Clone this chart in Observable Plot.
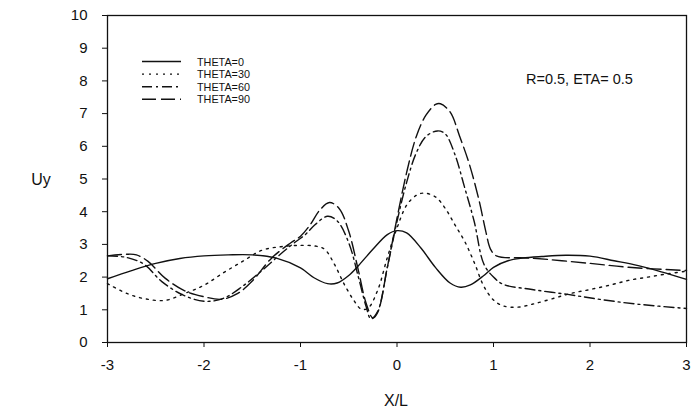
<!DOCTYPE html>
<html>
<head>
<meta charset="utf-8">
<script src="https://cdn.jsdelivr.net/npm/d3@7"></script>
<script src="https://cdn.jsdelivr.net/npm/@observablehq/plot@0.6"></script>
<style>
  html, body { margin: 0; padding: 0; background: #fff; }
  svg { display: block; }
</style>
</head>
<body>
<div id="chart"></div>
<script>
// ---- data ----
const seriesNames = ["THETA=0", "THETA=30", "THETA=60", "THETA=90"];

const theta0X = [-3,-2.75,-2.5,-2.25,-2,-1.75,-1.5,-1.25,-1,-0.86,-0.72,-0.62,-0.5,-0.4,-0.25,-0.1,0,0.1,0.25,0.4,0.55,0.66,0.76,0.9,1.0,1.15,1.3,1.5,1.75,2,2.25,2.5,2.75,3];
const theta0Y = [1.95,2.2,2.42,2.57,2.65,2.68,2.68,2.58,2.28,1.98,1.8,1.82,2.05,2.35,2.85,3.3,3.42,3.35,2.88,2.29,1.82,1.69,1.76,2.05,2.3,2.5,2.58,2.63,2.67,2.64,2.5,2.35,2.15,1.93];

const theta30X = [-3,-2.8,-2.6,-2.4,-2.2,-2.0,-1.8,-1.6,-1.4,-1.2,-1.0,-0.85,-0.75,-0.65,-0.55,-0.45,-0.37,-0.3,-0.2,-0.1,0,0.1,0.2,0.28,0.4,0.5,0.6,0.7,0.8,0.9,1.0,1.1,1.25,1.4,1.6,1.8,2.0,2.2,2.4,2.6,2.8,3.0];
const theta30Y = [1.8,1.5,1.33,1.29,1.5,1.75,2.13,2.48,2.82,2.93,2.97,2.95,2.85,2.4,1.8,1.3,1.02,1.05,1.6,2.6,3.5,4.2,4.5,4.57,4.45,4.1,3.6,3.1,2.45,1.72,1.3,1.12,1.08,1.17,1.33,1.5,1.62,1.75,1.9,2.0,2.1,2.18];

const theta60X = [-3,-2.8,-2.62,-2.44,-2.23,-2.0,-1.8,-1.6,-1.4,-1.2,-1.05,-0.95,-0.85,-0.72,-0.62,-0.5,-0.4,-0.32,-0.27,-0.2,-0.1,0,0.1,0.2,0.3,0.42,0.5,0.6,0.7,0.8,0.9,1.0,1.1,1.4,1.77,2.1,2.5,3.0];
const theta60Y = [2.65,2.6,2.39,1.87,1.47,1.26,1.35,1.72,2.2,2.72,3.08,3.3,3.6,3.86,3.72,3.05,2.0,1.1,0.72,0.95,2.3,3.7,4.9,5.8,6.3,6.47,6.38,5.75,4.75,3.7,2.4,2.0,1.78,1.62,1.47,1.32,1.17,1.04];

const theta90X = [-3,-2.8,-2.7,-2.58,-2.4,-2.2,-2.0,-1.82,-1.65,-1.5,-1.3,-1.1,-1.0,-0.9,-0.8,-0.7,-0.6,-0.5,-0.4,-0.32,-0.25,-0.2,-0.1,0,0.1,0.2,0.3,0.4,0.45,0.55,0.65,0.75,0.85,0.92,0.97,1.03,1.4,2.0,2.4,3.0];
const theta90Y = [2.65,2.7,2.68,2.48,1.96,1.58,1.4,1.32,1.5,1.88,2.58,3.05,3.25,3.6,4.05,4.28,4.1,3.4,2.2,1.2,0.75,0.92,2.3,3.8,5.2,6.3,6.95,7.28,7.3,7.05,6.3,5.45,4.35,3.4,2.85,2.65,2.58,2.42,2.3,2.2];

const xTicks = [-3,-2,-1,0,1,2,3];
const yTicks = [0,1,2,3,4,5,6,7,8,9,10];
const xTitle = "X/L";
const yTitle = "Uy";
const note = "R=0.5, ETA= 0.5";

// ---- build tables ----
const allX = [theta0X, theta30X, theta60X, theta90X];
const allY = [theta0Y, theta30Y, theta60Y, theta90Y];
const rows = [];
seriesNames.forEach((name, i) => {
  allX[i].forEach((x, j) => rows.push({series: name, x, y: allY[i][j]}));
});

const ink = "#111";
const dashes = {
  "THETA=0": null,
  "THETA=30": "2,5",
  "THETA=60": "10,4,2,4",
  "THETA=90": "14,5"
};
const font = "'Liberation Sans', Arial, Helvetica, sans-serif";

const lineMarks = seriesNames.map(name =>
  Plot.line(rows.filter(d => d.series === name), {
    x: "x", y: "y", curve: "catmull-rom",
    stroke: ink, strokeWidth: 1.4,
    strokeDasharray: dashes[name]
  })
);

const chart = Plot.plot({
  width: 692,
  height: 417,
  marginLeft: 107,
  marginRight: 6,
  marginTop: 15,
  marginBottom: 75,
  style: {fontFamily: font, fontSize: "15px", color: ink, background: "#fff"},
  x: {domain: [-3, 3]},
  y: {domain: [0, 10]},
  marks: [
    Plot.frame({stroke: ink, strokeWidth: 1.3}),
    Plot.axisX({ticks: xTicks, tickSize: 5, tickPadding: 12, tickFormat: d => String(d), label: null, fontSize: 15}),
    Plot.axisY({ticks: yTicks, tickSize: 5, tickPadding: 15, tickFormat: d => String(d), label: null, fontSize: 15}),
    ...lineMarks
  ]
});

document.getElementById("chart").appendChild(chart);

// ---- titles, legend, annotation ----
const svg = d3.select(chart);
svg.append("text")
  .attr("x", 396).attr("y", 406)
  .attr("text-anchor", "middle")
  .attr("font-family", font).attr("font-size", 16).attr("fill", ink)
  .text(xTitle);
svg.append("text")
  .attr("x", 41).attr("y", 185)
  .attr("text-anchor", "middle")
  .attr("font-family", font).attr("font-size", 16).attr("fill", ink)
  .text(yTitle);
svg.append("text")
  .attr("x", 526).attr("y", 84)
  .attr("text-anchor", "start")
  .attr("font-family", font).attr("font-size", 14.5).attr("fill", ink)
  .text(note);

const leg = svg.append("g");
seriesNames.forEach((name, i) => {
  const yy = 61.5 + i * 12.6;
  leg.append("line")
    .attr("x1", 142).attr("x2", 181).attr("y1", yy).attr("y2", yy)
    .attr("stroke", ink).attr("stroke-width", 1.4)
    .attr("stroke-dasharray", dashes[name] || null);
  leg.append("text")
    .attr("x", 197).attr("y", yy + 4)
    .attr("text-anchor", "start")
    .attr("font-family", font).attr("font-size", 10.8).attr("fill", ink)
    .text(name);
});
</script>
</body>
</html>
